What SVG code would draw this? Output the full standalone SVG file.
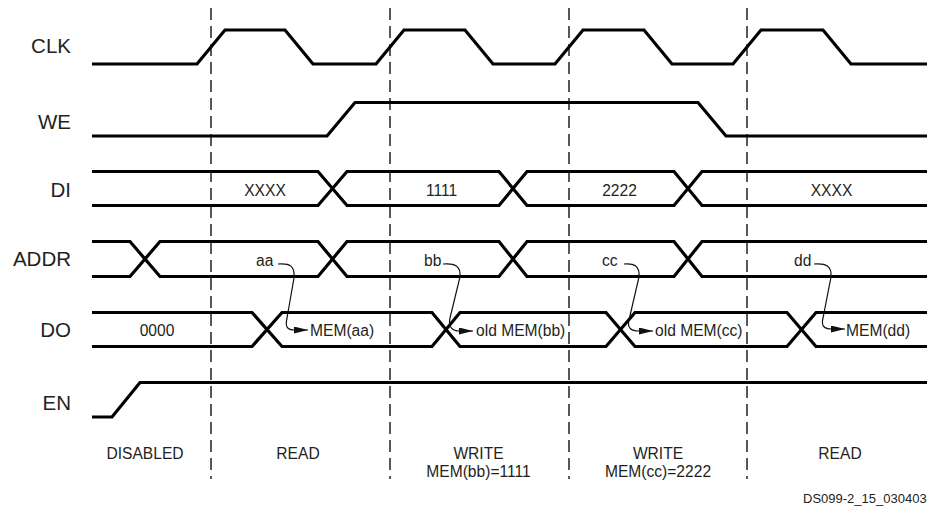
<svg xmlns="http://www.w3.org/2000/svg" width="927" height="508" viewBox="0 0 927 508">
<defs>
<style>
.sig{fill:none;stroke:#000;stroke-width:3.2;stroke-linejoin:miter;stroke-miterlimit:10}
.grid{fill:none;stroke:#222;stroke-width:1.5;stroke-dasharray:12 6}
.arr{fill:none;stroke:#111;stroke-width:1.2}
.lbl{font-family:"Liberation Sans",Arial,sans-serif;font-size:20.5px;fill:#231f20;text-anchor:end}
.t{font-family:"Liberation Sans",Arial,sans-serif;font-size:15.6px;fill:#231f20}
.c{text-anchor:middle}
.id{font-family:"Liberation Sans",Arial,sans-serif;font-size:13px;fill:#231f20}
</style>
<marker id="ah" markerUnits="userSpaceOnUse" markerWidth="14" markerHeight="8" refX="14" refY="3.5" orient="auto">
<path d="M0,0 L14,3.5 L0,7 z" fill="#111"/>
</marker>
</defs>
<rect width="927" height="508" fill="#fff"/>
<g id="grid">
<line class="grid" x1="211" y1="8" x2="211" y2="479"/>
<line class="grid" x1="390" y1="8" x2="390" y2="479"/>
<line class="grid" x1="569" y1="8" x2="569" y2="479"/>
<line class="grid" x1="747" y1="8" x2="747" y2="479"/>
</g>
<g id="CLK">
<text class="lbl" x="71" y="53">CLK</text>
<path class="sig" d="M92,64 H197 L225,30 H285 L313,64 H376 L404,30 H465 L493,64 H555 L583,30 H644 L672,64 H733 L761,30 H823 L851,64 H927"/>
</g>
<g id="WE">
<text class="lbl" x="71" y="129">WE</text>
<path class="sig" d="M92,136 H327 L355,102.5 H698 L726,136 H927"/>
</g>
<g id="DI">
<text class="lbl" x="71" y="196.5">DI</text>
<path class="sig" d="M92,171.5 H318 L347,205.5 H499 L527,171.5 H674 L702,205.5 H927"/>
<path class="sig" d="M92,205.5 H318 L347,171.5 H499 L527,205.5 H674 L702,171.5 H927"/>
<text class="t c" x="265" y="196">XXXX</text>
<text class="t c" x="441.5" y="196">1111</text>
<text class="t c" x="619.5" y="196">2222</text>
<text class="t c" x="831.5" y="196">XXXX</text>
</g>
<g id="ADDR">
<text class="lbl" x="71" y="266">ADDR</text>
<path class="sig" d="M92,241.5 H130 L160,276.5 H318 L347,241.5 H499 L527,276.5 H674 L702,241.5 H927"/>
<path class="sig" d="M92,276.5 H130 L160,241.5 H318 L347,276.5 H499 L527,241.5 H674 L702,276.5 H927"/>
<text class="t" x="256" y="266">aa</text>
<text class="t" x="424" y="266">bb</text>
<text class="t" x="602" y="266">cc</text>
<text class="t" x="794" y="266">dd</text>
</g>
<g id="DO">
<text class="lbl" x="71" y="336.5">DO</text>
<path class="sig" d="M92,312.5 H252 L282,346.5 H432 L460,312.5 H606 L635,346.5 H787 L816,312.5 H927"/>
<path class="sig" d="M92,346.5 H252 L282,312.5 H432 L460,346.5 H606 L635,312.5 H787 L816,346.5 H927"/>
<text class="t c" x="157" y="335.5">0000</text>
<text class="t" x="310" y="335.5">MEM(aa)</text>
<text class="t" x="476" y="335.5">old MEM(bb)</text>
<text class="t" x="655" y="335.5">old MEM(cc)</text>
<text class="t" x="846" y="335.5">MEM(dd)</text>
</g>
<g id="EN">
<text class="lbl" x="71" y="410">EN</text>
<path class="sig" d="M92,417 H112 L140,382.5 H927"/>
</g>
<g id="connectors">
<path class="arr" marker-end="url(#ah)" d="M278,264 C290,263 295,266 294,278 L287,318 C285,327 287,330 295,330 L308,330"/>
<path class="arr" marker-end="url(#ah)" d="M443,264 C455,263 461,266 460,277 L450,318 C448,327 452,331 460,331 L473,331"/>
<path class="arr" marker-end="url(#ah)" d="M624,264 C634,263 640,266 639,277 L629,320 C627,328 631,331 639,331 L653,331"/>
<path class="arr" marker-end="url(#ah)" d="M814,264 C826,263 832,266 831,277 L823,318 C821,326 824,329 832,329 L845,329"/>
</g>
<g id="phases">
<text class="t c" x="145" y="459">DISABLED</text>
<text class="t c" x="298" y="459">READ</text>
<text class="t c" x="478.5" y="459">WRITE</text>
<text class="t c" x="478.5" y="477">MEM(bb)=1111</text>
<text class="t c" x="658" y="459">WRITE</text>
<text class="t c" x="658" y="477">MEM(cc)=2222</text>
<text class="t c" x="840" y="459">READ</text>
<text class="id" x="803" y="503">DS099-2_15_030403</text>
</g>
</svg>
